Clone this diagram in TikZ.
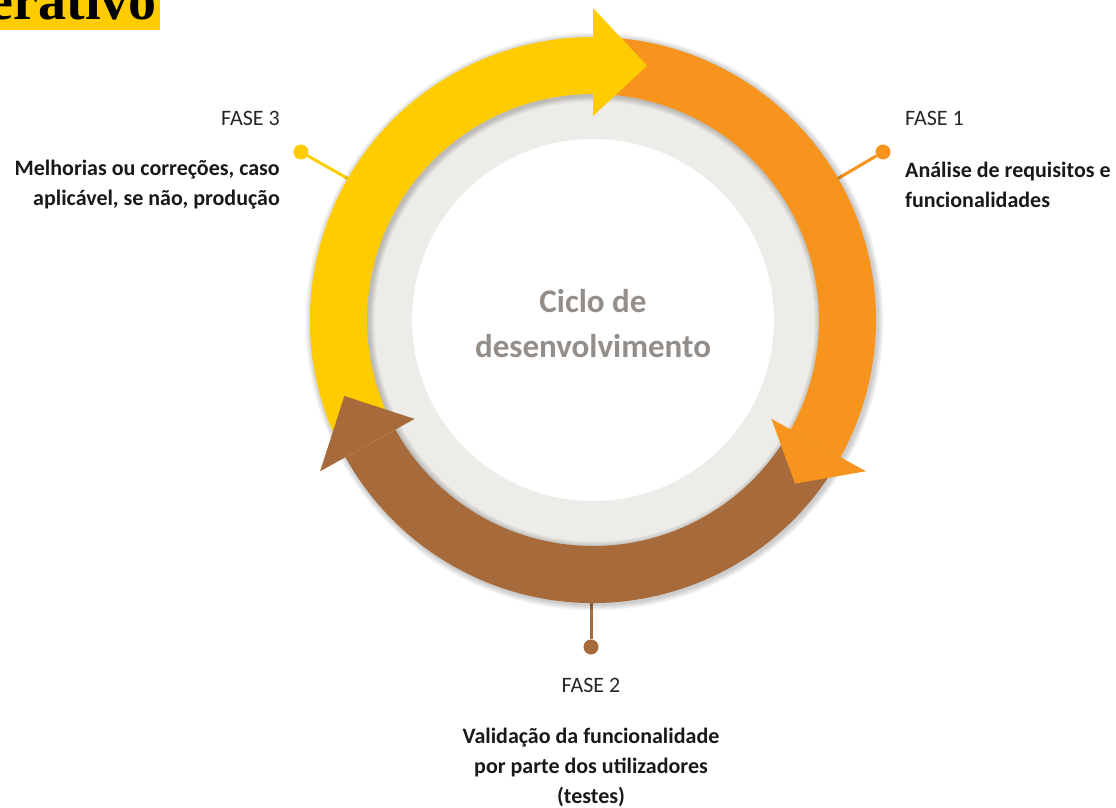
\documentclass[tikz,border=0pt]{standalone}
\usepackage{fontspec}
\setmainfont{Carlito}
\newfontfamily\titlefont{Liberation Serif}

\definecolor{cicloyellow}{HTML}{FFCC00}
\definecolor{cicloorange}{HTML}{F7941E}
\definecolor{ciclobrown}{HTML}{A66A3B}
\definecolor{ciclogray}{HTML}{EDECE8}
\definecolor{ciclotext}{HTML}{938E89}

\tikzset{
  fasetitle/.style={inner sep=0pt, font=\fontsize{22}{30}\selectfont, text=black!85},
  fasebody/.style={inner sep=0pt, font=\bfseries\fontsize{22}{30}\selectfont, text=black!90},
  fasedot/.style={circle, inner sep=0pt, minimum size=15pt, fill=#1},
  faselink/.style={line width=3pt, draw=#1},
}

\begin{document}
\begin{tikzpicture}[x=1pt,y=1pt]
    % canvas, origin at the centre of the cycle
    \useasboundingbox (-593,-488) rectangle (523,320);

    % title strip, cut by the page edge
    \begin{scope}
        \clip (-593,-488) rectangle (523,320);
        \fill[cicloyellow] (-593,290) rectangle (-433,320);
        \node[anchor=base east, inner sep=0pt, font=\titlefont\bfseries\fontsize{56}{56}\selectfont] (titulo) at (-436,300) {erativo};
    \end{scope}

    % dots and their links to the ring
    \node[fasedot=cicloyellow] (dot3) at (-292,168) {};
    \node[fasedot=cicloorange] (dot1) at (290,168) {};
    \node[fasedot=ciclobrown] (dot2) at (-2,-327) {};
    \coordinate (ring3) at (150:270pt);
    \coordinate (ring1) at (30:270pt);
    \coordinate (ring2) at (-2,-270);
    \draw[faselink=cicloyellow] (dot3) -- (ring3);
    \draw[faselink=cicloorange] (dot1) -- (ring1);
    \draw[faselink=ciclobrown] (dot2) -- (ring2);

    % grey ring and white centre
    \fill[ciclogray] (0,0) circle[radius=227pt];
    \fill[white] (0,0) circle[radius=181pt];

    % soft shadow of the ring
    \foreach \d in {1,...,6} {
        \fill[black, opacity=0.035, even odd rule] (1.5,-1.5) circle[radius={(283+\d)*1pt}] circle[radius={(226-\d)*1pt}];
    }

    % arc bodies
    \foreach \col/\a/\b in {cicloorange/90/-29, ciclobrown/-29/-151, cicloyellow/209/90} {
        \fill[\col] (\a:283pt) arc[start angle=\a, end angle=\b, radius=283pt]
            -- (\b:226pt) arc[start angle=\b, end angle=\a, radius=226pt] -- cycle;
    }
    % arrow heads
    \foreach \col/\b/\t in {cicloorange/-29/-39, ciclobrown/-151/-163, cicloyellow/90/78} {
        \fill[\col] (\b:312pt) -- (\t:260pt) -- (\b:204pt) -- cycle;
    }

    \node[font=\bfseries\fontsize{33}{45}\selectfont, text=ciclotext, align=center] (ciclo) at (0,-4) {Ciclo de\\desenvolvimento};

    % phase labels
    \node[fasetitle, anchor=east] (fase3) at (-313,202) {FASE 3};
    \node[fasebody, anchor=east, align=right] (texto3) at (-313,135) {Melhorias ou correções, caso\\aplicável, se não, produção};
    \node[fasetitle, anchor=west] (fase1) at (312,202) {FASE 1};
    \node[fasebody, anchor=west, align=left] (texto1) at (312,135) {Análise de requisitos e\\funcionalidades};
    \node[fasetitle] (fase2) at (-2,-365) {FASE 2};
    \node[fasebody, align=center] (texto2) at (-2,-447) {Validação da funcionalidade\\por parte dos utilizadores\\(testes)};
\end{tikzpicture}
\end{document}
